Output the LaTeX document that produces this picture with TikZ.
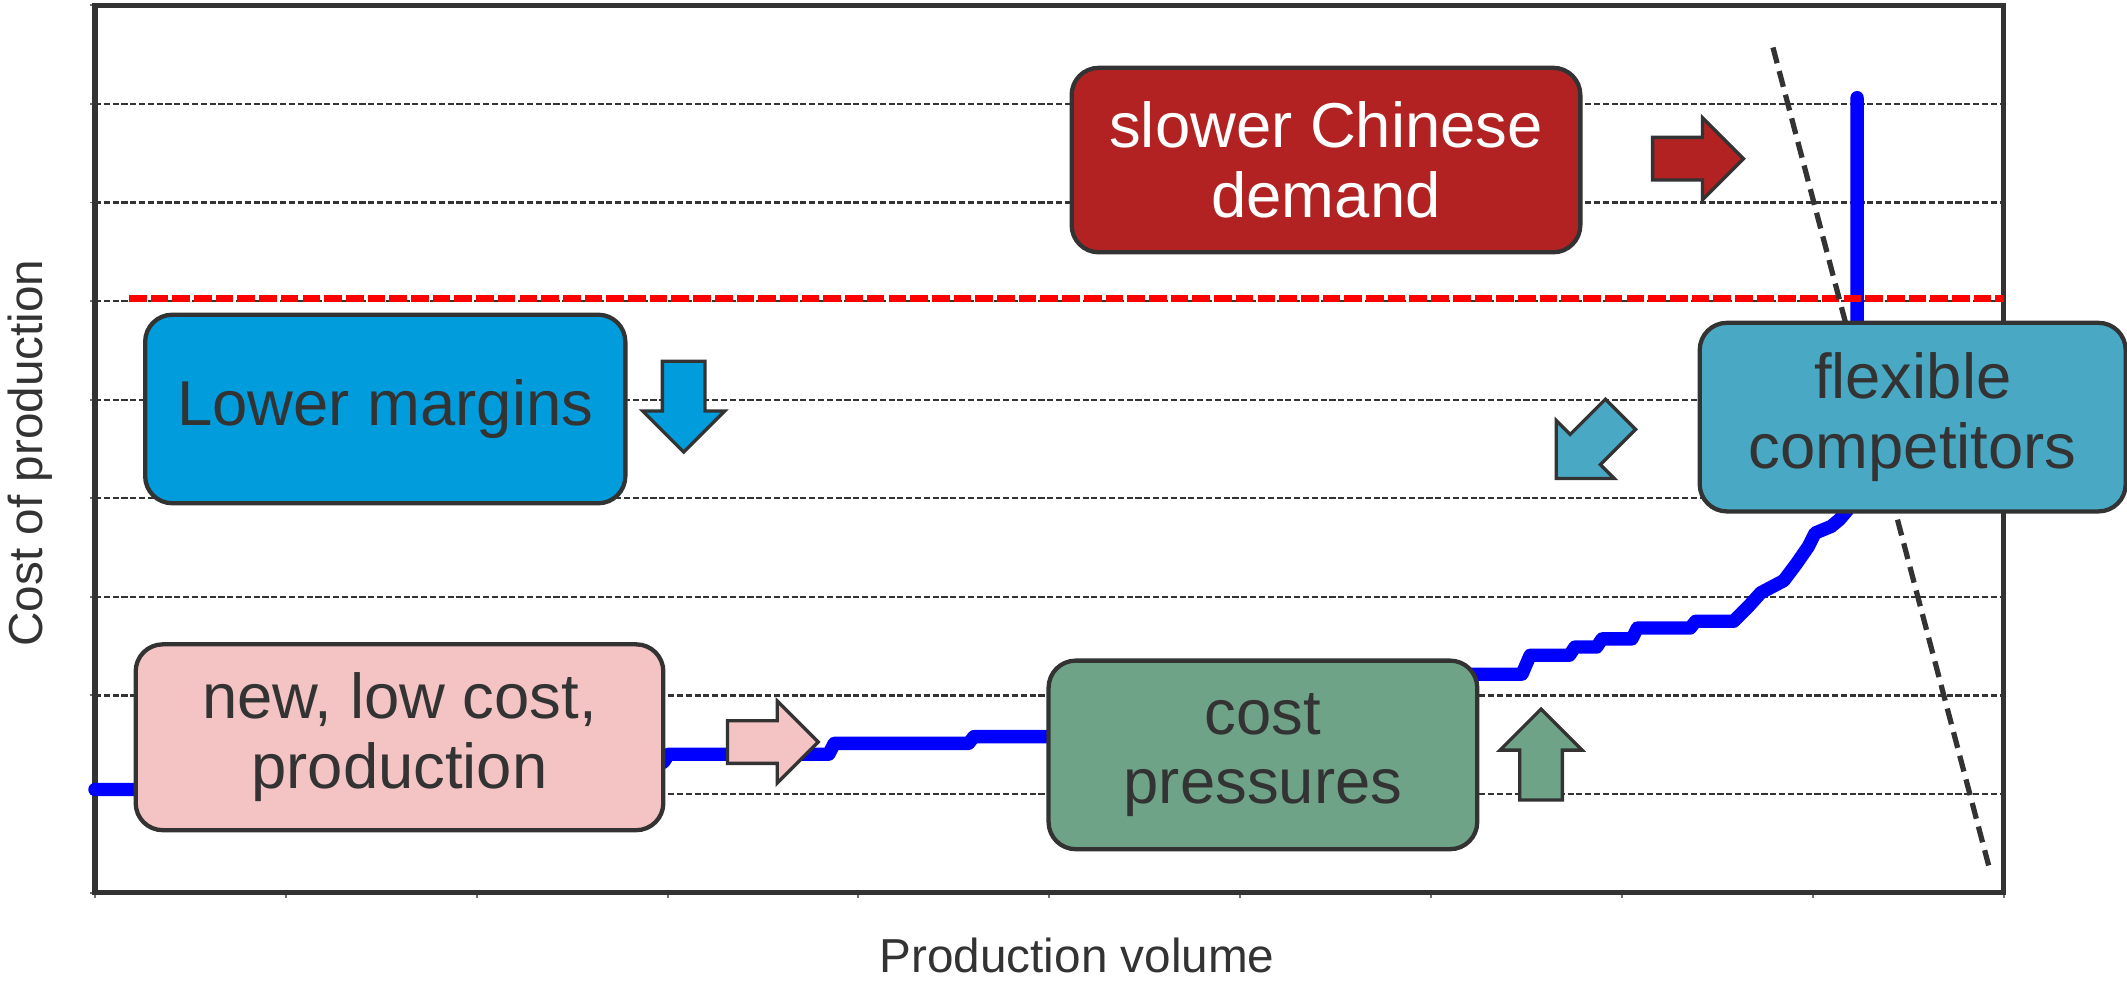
\documentclass[tikz,border=0pt]{standalone}
\usepackage{fontspec}
\setmainfont{Liberation Sans}
\usetikzlibrary{shapes.arrows}
\definecolor{inkgray}{RGB}{51,51,51}
\definecolor{demandred}{RGB}{178,34,34}
\definecolor{marginblue}{RGB}{0,156,220}
\definecolor{rivalteal}{RGB}{73,169,196}
\definecolor{newpink}{RGB}{244,195,195}
\definecolor{costgreen}{RGB}{111,163,135}
\definecolor{curveblue}{RGB}{0,0,255}
\tikzset{
  plotframe/.style={draw=inkgray,line width=1.1pt},
  gridline/.style={inkgray,line width=0.45pt,dash pattern=on 0.045cm off 0.02cm},
  axistick/.style={inkgray!70,line width=0.4pt},
  ceiling/.style={red,line width=1.4pt,dash pattern=on 0.13cm off 0.03cm},
  demandline/.style={inkgray,line width=1.1pt,dash pattern=on 0.12cm off 0.06cm},
  supply/.style={curveblue,line width=2.8pt,line join=round,line cap=round},
  callout/.style={draw=inkgray,line width=0.9pt,rounded corners=2mm,align=center,
                  inner sep=0pt,text=inkgray,font=\fontsize{13.3}{14.6}\selectfont},
  push/.style={single arrow,draw=inkgray,line width=0.7pt,inner xsep=0pt,inner ysep=0.145cm,
               single arrow head extend=0.145cm,minimum height=0.67cm,anchor=tip},
  axislab/.style={text=inkgray,font=\fontsize{10}{12}\selectfont},
}

\begin{document}
\begin{tikzpicture}[x=1cm,y=1cm]
  \path[use as bounding box] (0,0) rectangle (15.68,7.24);

  % grid and ticks
  \foreach \k in {1,...,8}
    \draw[gridline] (0.70,0.66+0.7267*\k) -- (14.77,0.66+0.7267*\k);
  \foreach \k in {0,...,9}
    \draw[axistick] (0.66,0.66+0.7267*\k) -- (0.70,0.66+0.7267*\k);
  \foreach \k in {0,...,10}
    \draw[axistick] (0.70+1.407*\k,0.66) -- (0.70+1.407*\k,0.62);
  \draw[plotframe] (0.70,0.66) rectangle (14.77,7.20);

  % supply curve
  \draw[supply] (0.70,1.42) -- (2.90,1.42) -- (2.90,1.68) -- (4.88,1.68) -- (4.89,1.62)
    -- (4.93,1.68) -- (6.11,1.68) -- (6.15,1.76) -- (7.14,1.76) -- (7.18,1.81) -- (9.30,1.81)
    -- (9.30,2.27) -- (11.22,2.27) -- (11.28,2.41) -- (11.57,2.41) -- (11.61,2.47)
    -- (11.77,2.47) -- (11.81,2.53) -- (12.03,2.53) -- (12.07,2.61) -- (12.46,2.61)
    -- (12.50,2.66) -- (12.78,2.66) -- (12.89,2.77) -- (12.98,2.87) -- (13.15,2.96)
    -- (13.24,3.08) -- (13.33,3.21) -- (13.38,3.31) -- (13.50,3.36) -- (13.56,3.41)
    -- (13.62,3.48) -- (13.69,3.90) -- (13.69,6.52);
  \draw[ceiling] (0.95,5.04) -- (14.77,5.04);
  \draw[demandline] (13.07,6.89) -- (14.66,0.86);

  % boxes
  \node[callout,fill=demandred,text=white,minimum width=3.75cm,minimum height=1.36cm]
    (demand) at (9.775,6.06) {slower Chinese\\demand};
  \node[callout,fill=marginblue,minimum width=3.54cm,minimum height=1.39cm]
    (margins) at (2.84,4.225) {Lower margins};
  \node[callout,fill=rivalteal,minimum width=3.14cm,minimum height=1.39cm]
    (rivals) at (14.10,4.165) {flexible\\competitors};
  \node[callout,fill=newpink,minimum width=3.89cm,minimum height=1.37cm]
    (lowcost) at (2.945,1.805) {new, low cost,\\production};
  \node[callout,fill=costgreen,minimum width=3.16cm,minimum height=1.39cm]
    (pressure) at (9.31,1.675) {cost\\pressures};

  % block arrows, placed by their tips
  \node[push,fill=demandred] (demandpush) at (12.87,6.07) {};
  \node[push,fill=marginblue,rotate=-90] (marginpush) at (5.04,3.89) {};
  \node[push,fill=rivalteal,rotate=225] (rivalpush) at (11.46,3.70) {};
  \node[push,fill=newpink] (lowcostpush) at (6.05,1.77) {};
  \node[push,fill=costgreen,rotate=90] (pressurepush) at (11.36,2.03) {};

  % axis labels
  \node[axislab] (xlab) at (7.94,0.20) {Production volume};
  \node[axislab,rotate=90] (ylab) at (0.22,3.90) {Cost of production};
\end{tikzpicture}
\end{document}
